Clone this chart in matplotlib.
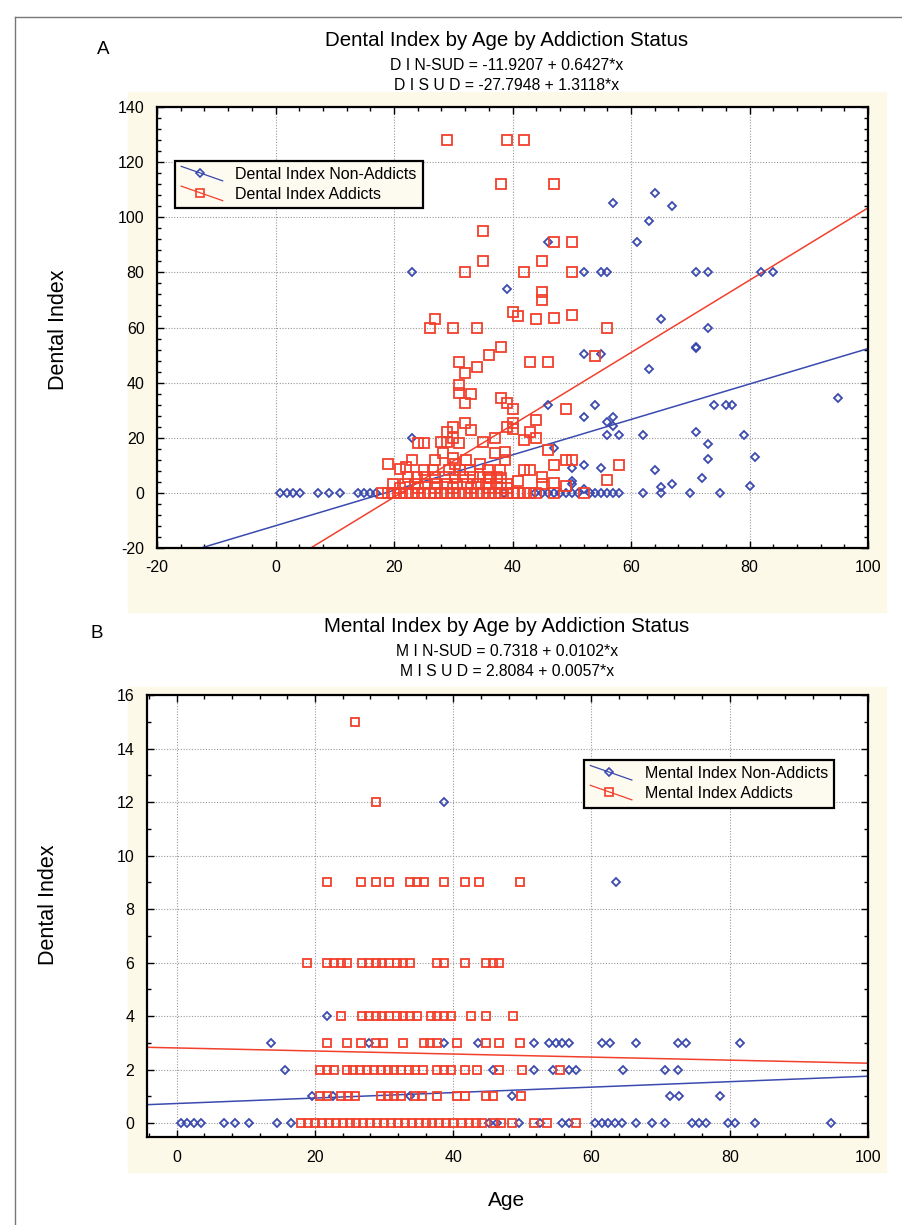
import matplotlib
matplotlib.use("Agg")
import matplotlib.pyplot as plt
from matplotlib.lines import Line2D
from matplotlib.patches import Rectangle
from matplotlib.legend_handler import HandlerLine2D
from matplotlib.ticker import MultipleLocator
import numpy as np

plt.rcParams["font.family"] = ["Liberation Sans Narrow", "Liberation Sans", "DejaVu Sans"]
plt.rcParams["axes.unicode_minus"] = False

BLUE = "#3a4aae"
RED = "#f2402c"
CREAM = "#fdf9e9"

# ---- panel A: Dental index by age ----
a_blue_x = [57, 64, 67, 63, 61, 46, 52, 55, 56, 71, 73, 82, 84, 23, 39, 65, 73, 71, 71,
            52, 55, 63, 46, 54, 95, 74, 76, 77, 52, 56, 57, 57, 56, 58, 62, 71, 73, 79,
            81, 73, 47, 50, 52, 55, 64, 50, 50, 72, 67, 65, 80, 52, 23,
            0.8, 1.9, 3.0, 4.1, 7.1, 9.0, 10.9, 14.0, 15.0, 16.0, 17.0, 38.5, 43.8, 45,
            46, 47, 48, 49, 50, 51, 53, 54, 55, 56, 57, 58, 62, 65, 70, 75]
a_blue_y = [105.3, 108.7, 104.2, 98.6, 91.1, 91.1, 80, 80, 80, 80, 80, 80, 80, 80, 74, 63.2,
            60, 53, 52.4, 50.3, 50.3, 45, 32, 32, 34.5, 32, 32, 32, 27.4, 25.8, 27.4, 24.2,
            21, 21, 21, 22, 17.6, 21, 13.1, 12.2, 16.1, 9.1, 10, 9.1, 8.2, 4.4, 3.2, 5.3,
            3.1, 2.2, 2.6, 1.5, 20,
            0, 0, 0, 0, 0, 0, 0, 0, 0, 0, 0, 0, 0, 0,
            0, 0, 0, 0, 0, 0, 0, 0, 0, 0, 0, 0, 0, 0, 0, 0]

a_red_x = [29, 39, 42, 38, 47, 35, 47, 50, 35, 45, 32, 42, 50, 45, 45,
           40, 41, 44, 47, 50, 27, 26, 30, 34, 56, 38, 36, 54,
           31, 43, 46, 34, 32, 31, 31, 33, 38, 39, 40, 32, 49,
           32, 33, 30, 29, 39, 40, 40, 44, 43, 44, 42, 37, 35, 24, 25, 28, 29, 31, 30,
           37, 38.7, 38.7, 46, 49, 50, 47, 58, 56,
           19, 21, 22, 23, 25, 26.6, 27, 28.3, 29.2, 30, 30.3, 31.2, 32.1, 32.8, 34.5,
           35.9, 37.9, 42, 43, 45, 45, 47, 41, 49, 38, 38, 36,
           22.4, 23.8, 25.2, 26.9, 28.6, 30.3, 31.7, 33.4, 34.5, 36.2, 37.3,
           19.9, 21.9, 23.5, 25.2, 27.2, 28.9, 30.6, 32.3, 34.2, 35.6, 37.3, 39.0,
           21, 24, 27, 30, 33, 36, 39,
           18, 19, 20, 21, 22, 23, 24, 25, 26, 27, 28, 29, 30, 31, 32, 33, 34, 35,
           36, 37, 38, 39, 40, 41, 42, 43, 44, 47, 52]
a_red_y = [128, 128, 128, 112, 112, 95, 91, 91, 84, 84, 80, 80, 80, 73, 70,
           65.5, 64.3, 63, 63.5, 64.5, 63, 60, 60, 60, 60, 53, 50, 49.5,
           47.5, 47.5, 47.5, 45.5, 43.5, 39, 36.3, 36, 34.5, 32.5, 30.5, 32.5, 30.5,
           25.2, 22.8, 24, 22.2, 24, 25.4, 23, 26.4, 22, 20, 19.2, 20, 18.6, 18, 18,
           18.6, 18.6, 18, 20,
           14.6, 15, 12, 15.5, 12, 12, 10, 10, 4.5,
           10.5, 8.8, 9.5, 12, 8.2, 8.2, 12, 14.4, 8.2, 12.5, 10.6, 8.2, 11.8, 8.2,
           10.6, 8.2, 8.2, 8.2, 8.2, 5.8, 3.4, 3.6, 4.4, 2.5, 5.3, 1.6, 5.3,
           5.8, 5.8, 5.8, 5.8, 5.8, 5.8, 5.8, 5.8, 5.8, 5.8, 5.8,
           3.4, 3.4, 3.4, 3.4, 3.4, 3.4, 3.4, 3.4, 3.4, 3.4, 3.4, 3.4,
           1.6, 1.6, 1.6, 1.6, 1.6, 1.6, 1.6,
           0, 0, 0, 0, 0, 0, 0, 0, 0, 0, 0, 0, 0, 0, 0, 0, 0, 0,
           0, 0, 0, 0, 0, 0, 0, 0, 0, 0, 0]

a_fit_blue = (-11.9207, 0.6427)
a_fit_red = (-27.7948, 1.3118)

# ---- panel B: Mental index by age ----
b_blue_x = [0.6, 1.5, 2.5, 3.5, 6.8, 8.5, 10.5, 14.5, 16.6, 45.2, 46.3, 49.5, 52.6, 55.7,
            56.8, 60.5, 61.5, 62.4, 63.4, 64.4, 66.5, 68.7, 70.7, 74.5, 75.6, 76.6, 79.7,
            80.7, 83.6, 94.6,
            19.5, 22.6, 33.7, 48.5, 71.3, 72.6, 78.6,
            15.6, 45.7, 51.7, 54.5, 56.7, 57.7, 64.6, 70.7, 72.5,
            13.7, 27.8, 38.7, 43.6, 51.7, 53.8, 54.8, 55.7, 56.7, 61.5, 62.7, 66.5, 72.5,
            73.7, 81.5,
            21.8, 63.6, 38.7]
b_blue_y = [0] * 30 + [1] * 7 + [2] * 9 + [3] * 15 + [4, 9, 12]

b_red_x = [25.8, 28.8,
           21.8, 26.7, 28.8, 30.7, 33.7, 34.7, 35.7, 38.7, 41.7, 43.7, 49.7,
           18.8, 21.8, 22.8, 23.7, 24.6, 26.8, 27.8, 28.8, 29.7, 30.7, 31.8, 32.7, 33.8,
           37.7, 38.7, 41.7, 44.7, 45.7, 46.6,
           23.7, 26.8, 27.8, 28.8, 29.7, 30.7, 31.8, 32.7, 33.8, 34.7, 36.8, 37.7, 38.7,
           39.7, 42.6, 44.8, 48.6,
           21.8, 24.6, 26.7, 28.8, 29.8, 32.7, 35.7, 36.7, 37.7, 40.6, 44.7, 46.6, 49.7,
           20.7, 21.8, 22.8, 24.6, 25.5, 26.5, 27.5, 28.5, 29.6, 30.6, 31.5, 32.5, 33.6,
           34.5, 35.6, 37.7, 38.7, 39.7, 41.7, 43.5, 46.6, 49.9, 55.5,
           20.7, 21.8, 23.7, 24.8, 25.8, 29.6, 30.6, 31.5, 32.5, 34.5, 35.5, 37.7, 40.6,
           41.7, 44.7, 45.7, 49.8,
           18, 19, 20, 21, 22, 23, 24, 25, 26, 27, 28, 29, 30, 31, 32, 33, 34, 35, 36,
           37, 38, 39, 40, 41.3, 42.3, 43.3, 44.2, 45.9, 46.9, 48.5, 51.7, 53.6, 57.7]
b_red_y = [15, 12] + [9] * 11 + [6] * 19 + [4] * 17 + [3] * 13 + [2] * 23 + [1] * 17 + [0] * 33

b_fit_blue = (0.7318, 0.0102)
b_fit_red = (2.8084, -0.0057)


class DiagHandler(HandlerLine2D):
    def create_artists(self, legend, orig_handle, xdescent, ydescent, width, height,
                       fontsize, trans):
        x0, y0 = -xdescent, -ydescent
        ln = Line2D([x0, x0 + width], [y0 + height * 1.15, y0 - height * 0.15],
                    color=orig_handle.get_color(), lw=0.9, transform=trans)
        mk = Line2D([x0 + width * 0.45], [y0 + height * 0.55], marker=orig_handle.get_marker(),
                    mfc="none", mec=orig_handle.get_color(), ms=orig_handle.get_markersize(),
                    mew=1.2, transform=trans)
        return [ln, mk]


def style_axes(ax, xmaj, xmin, ymaj, ymin):
    ax.xaxis.set_major_locator(MultipleLocator(xmaj))
    ax.xaxis.set_minor_locator(MultipleLocator(xmin))
    ax.yaxis.set_major_locator(MultipleLocator(ymaj))
    ax.yaxis.set_minor_locator(MultipleLocator(ymin))
    ax.tick_params(which="both", direction="in", top=True, right=True, labelsize=11.5,
                   width=1.0, color="black")
    ax.tick_params(which="major", length=5)
    ax.tick_params(which="minor", length=3)
    ax.tick_params(axis="x", pad=9)
    ax.tick_params(axis="y", pad=9)
    ax.grid(True, which="major", color="#9a9a9a", lw=0.8, ls=(0, (1, 1.5)))
    ax.set_axisbelow(True)
    for s in ax.spines.values():
        s.set_linewidth(1.6)
        s.set_color("black")
    ax.set_facecolor("white")


fig = plt.figure(figsize=(9.02, 12.25), dpi=100)

# cream paper patches behind the plots and outer frame lines
fig.patches.append(Rectangle((128 / 902, 1 - 612 / 1225), 758 / 902, 520 / 1225,
                             transform=fig.transFigure, color=CREAM, zorder=-5))
fig.patches.append(Rectangle((128 / 902, 1 - 1172 / 1225), 758 / 902, 485 / 1225,
                             transform=fig.transFigure, color=CREAM, zorder=-5))
fig.add_artist(Line2D([15 / 902, 1], [1 - 17 / 1225] * 2, transform=fig.transFigure,
                      color="#777777", lw=1.0))
fig.add_artist(Line2D([15 / 902] * 2, [0, 1 - 17 / 1225], transform=fig.transFigure,
                      color="#777777", lw=1.0))

legend_font = {"family": ["Liberation Sans", "DejaVu Sans"], "size": 11.5}

# ---- panel A ----
axA = fig.add_axes([157 / 902, 1 - 548 / 1225, 711 / 902, 441 / 1225])
style_axes(axA, 20, 4, 20, 4)
axA.set_xlim(-20, 100)
axA.set_ylim(-20, 140)
xs = np.array([-20, 100])
axA.plot(xs, a_fit_blue[0] + a_fit_blue[1] * xs, color=BLUE, lw=1.1, zorder=2)
axA.plot(xs, a_fit_red[0] + a_fit_red[1] * xs, color=RED, lw=1.1, zorder=2)
axA.plot(a_blue_x, a_blue_y, ls="none", marker="D", ms=4.4, mfc="none", mec=BLUE,
         mew=1.3, zorder=3)
axA.plot(a_red_x, a_red_y, ls="none", marker="s", ms=6.6, mfc="none", mec=RED,
         mew=1.3, zorder=3)
hA = [Line2D([], [], color=BLUE, marker="D", ms=4.4), Line2D([], [], color=RED, marker="s", ms=5.8)]
legA = axA.legend(hA, ["Dental Index Non-Addicts", "Dental Index Addicts"],
                  handler_map={Line2D: DiagHandler()}, loc="upper left",
                  bbox_to_anchor=(0.025, 0.878), borderaxespad=0, fancybox=False,
                  framealpha=1, facecolor="#fdfaf0", edgecolor="black", prop=legend_font,
                  handlelength=2.6, handletextpad=0.8, borderpad=0.4, labelspacing=0.3)
legA.get_frame().set_linewidth(1.6)

# ---- panel B ----
axB = fig.add_axes([147 / 902, 1 - 1137 / 1225, 721 / 902, 442 / 1225])
style_axes(axB, 20, 4, 2, 1)
axB.set_xlim(-4.3, 100)
axB.set_ylim(-0.52, 16)
xs = np.array([-4.3, 100])
axB.plot(xs, b_fit_blue[0] + b_fit_blue[1] * xs, color=BLUE, lw=1.1, zorder=2)
axB.plot(xs, b_fit_red[0] + b_fit_red[1] * xs, color=RED, lw=1.1, zorder=2)
axB.plot(b_blue_x, b_blue_y, ls="none", marker="D", ms=4.4, mfc="none", mec=BLUE,
         mew=1.3, zorder=3)
axB.plot(b_red_x, b_red_y, ls="none", marker="s", ms=6.0, mfc="none", mec=RED,
         mew=1.3, zorder=3)
hB = [Line2D([], [], color=BLUE, marker="D", ms=4.4), Line2D([], [], color=RED, marker="s", ms=5.8)]
legB = axB.legend(hB, ["Mental Index Non-Addicts", "Mental Index Addicts"],
                  handler_map={Line2D: DiagHandler()}, loc="upper left",
                  bbox_to_anchor=(0.606, 0.853), borderaxespad=0, fancybox=False,
                  framealpha=1, facecolor="#fdfaf0", edgecolor="black", prop=legend_font,
                  handlelength=2.6, handletextpad=0.8, borderpad=0.4, labelspacing=0.3)
legB.get_frame().set_linewidth(1.6)

# ---- titles and labels ----
fig.text(103 / 902, 1 - 50 / 1225, "A", fontsize=13.5, ha="center", va="center")
fig.text(507 / 902, 1 - 40 / 1225, "Dental Index by Age by Addiction Status",
         fontsize=14.8, ha="center", va="center")
fig.text(507 / 902, 1 - 65 / 1225, "D I N-SUD = -11.9207 + 0.6427*x",
         fontsize=11.3, ha="center", va="center")
fig.text(507 / 902, 1 - 85 / 1225, "D I S U D = -27.7948 + 1.3118*x",
         fontsize=11.3, ha="center", va="center")
fig.text(58 / 902, 1 - 330 / 1225, "Dental Index", fontsize=15.5, rotation=90,
         ha="center", va="center")

fig.text(97 / 902, 1 - 634 / 1225, "B", fontsize=13.5, ha="center", va="center")
fig.text(507 / 902, 1 - 626 / 1225, "Mental Index by Age by Addiction Status",
         fontsize=14.8, ha="center", va="center")
fig.text(507 / 902, 1 - 651 / 1225, "M I N-SUD = 0.7318 + 0.0102*x",
         fontsize=11.3, ha="center", va="center")
fig.text(507 / 902, 1 - 672 / 1225, "M I S U D = 2.8084 + 0.0057*x",
         fontsize=11.3, ha="center", va="center")
fig.text(48 / 902, 1 - 905 / 1225, "Dental Index", fontsize=15.5, rotation=90,
         ha="center", va="center")
fig.text(507 / 902, 1 - 1200 / 1225, "Age", fontsize=15, ha="center", va="center")

fig.savefig("out.png", dpi=100)
